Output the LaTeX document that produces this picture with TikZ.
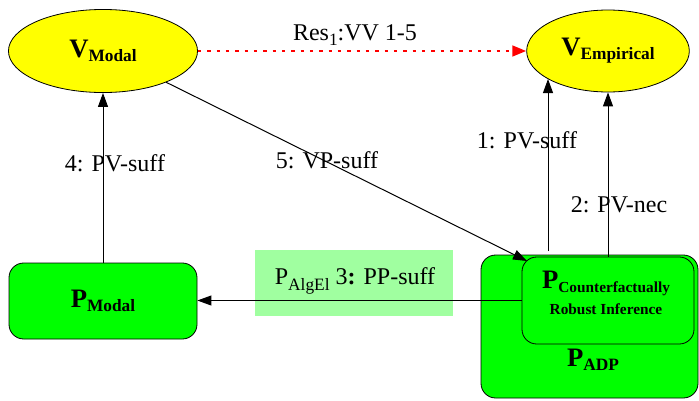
\documentclass[tikz,border=0pt]{standalone}
\usepackage{fontspec}
\setmainfont{Liberation Serif}
\usetikzlibrary{arrows.meta,positioning,shapes.geometric}
\definecolor{NodeYellow}{HTML}{FFFF00}
\definecolor{NodeGreen}{HTML}{00FF00}
\definecolor{LabelGreen}{HTML}{A0FFA0}
\definecolor{ResRed}{HTML}{FF0000}
\newcommand{\biglab}[3]{{\fontsize{20}{22}\selectfont #1}\raisebox{-3pt}{\fontsize{#3}{#3}\selectfont #2}}

\begin{document}
\begin{tikzpicture}[x=0.75pt,y=-0.75pt,
  vnode/.style={ellipse, draw, fill=NodeYellow, line width=0.6pt, inner sep=0pt, font=\bfseries},
  pnode/.style={rectangle, rounded corners=11pt, draw, fill=NodeGreen, line width=0.6pt, inner sep=0pt, font=\bfseries},
  edgelab/.style={font=\fontsize{18}{20}\selectfont, inner sep=0pt},
  link/.style={line width=0.75pt, -{Triangle[length=10.5pt,width=7.5pt]}}]
  \useasboundingbox (0,0) rectangle (699,400);
  % yellow V nodes
  \node[vnode, minimum width=141.8pt, minimum height=62.3pt] (vmodal) at (103,51) {\biglab{V}{Modal}{13}};
  \node[vnode, minimum width=122pt, minimum height=61.5pt] (vemp) at (608,51) {\biglab{V}{Empirical}{13}};
  % green P nodes
  \node[pnode, minimum width=141pt, minimum height=57pt] (pmodal) at (103,301) {\biglab{P}{Modal}{13}};
  \node[pnode, minimum width=162.75pt, minimum height=107.25pt] (adp) at (589.5,326.5) {};
  \node[pnode, minimum width=129pt, minimum height=65.25pt] (cri) at (608,300.5) {};
  \node[font=\bfseries, inner sep=0pt] (adplab) at (593,360) {\biglab{P}{ADP}{13}};
  \node[font=\bfseries\fontsize{11.5}{19}\selectfont, inner sep=0pt, align=center] (crilab) at (606,293)
    {\biglab{P}{Counterfactually}{11.5}\\Robust Inference};
  % label box of edge 3
  \node[fill=LabelGreen, minimum width=148.5pt, minimum height=49.5pt, inner sep=0pt] (ppbox) at (354,283) {};
  \node[edgelab] (pplab) at (355,281) {P\raisebox{-4pt}{\fontsize{13}{13}\selectfont AlgEl} 3\textbf{:} PP-suff};
  % edges
  \coordinate (s1) at (548,251);
  \coordinate (t5) at (527,261);
  \draw[ResRed, line width=2pt, dash pattern=on 2.5pt off 4.5pt, -{Triangle[length=10.5pt,width=8pt]}] (vmodal) -- (vemp);
  \draw[link] (pmodal) -- (vmodal);
  \draw[link] (vmodal) -- (t5);
  \draw[link] (s1) -- (s1 |- vemp.205);
  \draw[link] (cri) -- (vemp);
  \draw[link] (cri.west) -- (cri.west -| pmodal.east);
  % edge labels
  \node[edgelab] (reslab) at (355,35) {Res\raisebox{-4pt}{\fontsize{13}{13}\selectfont 1}:VV 1-5};
  \node[edgelab] (lab4) at (115,163) {4: PV-suff};
  \node[edgelab] (lab5) at (327,160) {5: VP-suff};
  \node[edgelab] (lab1) at (527,140) {1: PV-suff};
  \node[edgelab] (lab2) at (619,205) {2: PV-nec};
\end{tikzpicture}
\end{document}
